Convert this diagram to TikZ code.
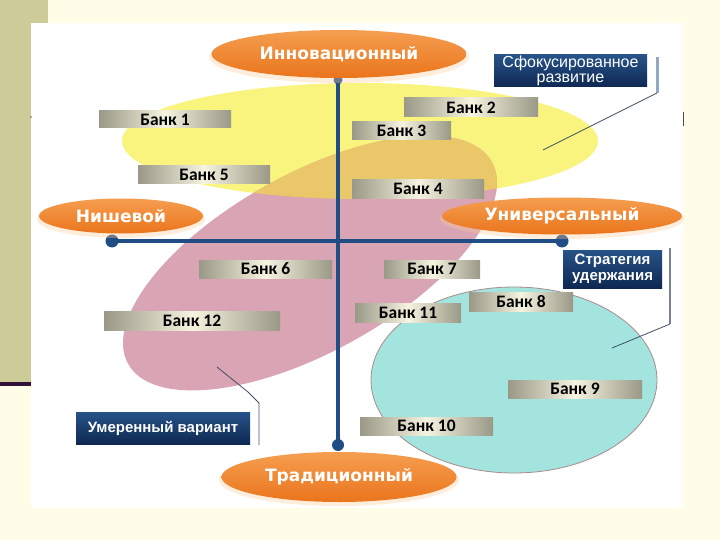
\documentclass[tikz,border=0pt]{standalone}
\usepackage{fontspec}
\usetikzlibrary{shapes.geometric}
\setmainfont{Carlito}
\newfontfamily\dejavu{DejaVu Sans}
\newfontfamily\arial{Liberation Sans}
\definecolor{cream}{HTML}{FFFDE7}
\definecolor{olive}{HTML}{CDCB98}
\definecolor{darkline}{HTML}{33123A}
\definecolor{yel}{HTML}{F9F47E}
\definecolor{pinkc}{HTML}{D9A4B3}
\definecolor{tanc}{HTML}{EAC768}
\definecolor{cyanc}{HTML}{A3E4DF}
\definecolor{cyanb}{HTML}{A88C8C}
\definecolor{axisc}{HTML}{214D85}
\definecolor{barD}{HTML}{9A9886}
\definecolor{barL}{HTML}{F6F4E0}
\definecolor{orT}{HTML}{F59E50}
\definecolor{orB}{HTML}{EA751C}
\definecolor{navyT}{HTML}{275388}
\definecolor{navyB}{HTML}{0E2852}
\definecolor{callc}{HTML}{3F4E66}
\begin{document}
\begin{tikzpicture}[x=1pt,y=-1pt,
  bar/.style={rectangle, inner sep=0pt, left color=barD, right color=barD, middle color=barL,
    font=\bfseries\fontsize{17.5}{17.5}\selectfont, text=black},
  oval/.style={ellipse, inner sep=0pt, top color=orT, bottom color=orB,
    font=\dejavu\bfseries\fontsize{17}{17}\selectfont, text=white},
  navybox/.style={rectangle, inner sep=0pt, top color=navyT, bottom color=navyB, text=white, align=center},
  axisline/.style={axisc, line width=4.5pt},
  dot/.style={circle, fill=axisc, inner sep=0pt, minimum size=13pt},
  callout/.style={callc, line width=0.8pt}]
\useasboundingbox (0,0) rectangle (720,540);
% background
\fill[cream] (0,0) rectangle (720,540);
\fill[olive] (0,0) rectangle (48,384);
\fill[darkline] (0,382) rectangle (31,386);
\fill[white] (31,23) rectangle (683,508);
% regions
\fill[yel] (360,141) ellipse [x radius=238, y radius=58];
\fill[pinkc, rotate around={29:(310,263)}] (310,263) ellipse [x radius=208, y radius=89];
\begin{scope}
  \clip (360,141) ellipse [x radius=238, y radius=58];
  \fill[tanc, rotate around={29:(310,263)}] (310,263) ellipse [x radius=208, y radius=89];
\end{scope}
\filldraw[fill=cyanc, draw=cyanb, line width=0.8pt] (514,380) ellipse [x radius=143, y radius=93];
% axes
\coordinate (vt) at (338,80);
\coordinate (vb) at (338,445);
\coordinate (hl) at (112,241);
\coordinate (hr) at (562,241);
\draw[axisline] (vt) -- (vb);
\draw[axisline] (hl) -- (hr);
\node[dot] at (hl) {};
\node[dot] at (hr) {};
\node[dot, minimum size=12pt] at (vb) {};
\node[dot, minimum size=9pt] at (vt) {};
% orange labels
\fill[orange!40, opacity=0.35] (339,57) ellipse [x radius=130, y radius=26];
\node[oval, minimum width=255, minimum height=48] (inn) at (339,54) {Инновационный};
\fill[orange!40, opacity=0.35] (121,219) ellipse [x radius=84, y radius=19];
\node[oval, minimum width=164, minimum height=35] (nis) at (121,216) {Нишевой};
\fill[orange!40, opacity=0.35] (562,219) ellipse [x radius=122, y radius=20];
\node[oval, minimum width=240, minimum height=37] (uni) at (562,216) {Универсальный};
\fill[orange!40, opacity=0.35] (339,480) ellipse [x radius=120, y radius=26];
\node[oval, minimum width=235, minimum height=50] (tra) at (339,477) {Традиционный};
% banks
\node[bar, minimum width=132, minimum height=17] (b1) at (165,119.5) {Банк 1};
\node[bar, minimum width=134, minimum height=19] (b2) at (471,107.5) {Банк 2};
\node[bar, minimum width=99, minimum height=18] (b3) at (401.5,131) {Банк 3};
\node[bar, minimum width=132, minimum height=19] (b4) at (418,189) {Банк 4};
\node[bar, minimum width=132, minimum height=18] (b5) at (204,175) {Банк 5};
\node[bar, minimum width=133, minimum height=18] (b6) at (265.5,269) {Банк 6};
\node[bar, minimum width=96, minimum height=18] (b7) at (432,269) {Банк 7};
\node[bar, minimum width=104, minimum height=19] (b8) at (521,301.5) {Банк 8};
\node[bar, minimum width=134, minimum height=18] (b9) at (575,389) {Банк 9};
\node[bar, minimum width=133, minimum height=18] (b10) at (426.5,426) {Банк 10};
\node[bar, minimum width=106, minimum height=19] (b11) at (408,312.5) {Банк 11};
\node[bar, minimum width=176, minimum height=19] (b12) at (192,320.5) {Банк 12};
% navy callouts
\node[navybox, minimum width=153, minimum height=32, font=\arial\fontsize{16}{15.5}\selectfont] (sf) at (570.5,71) {Сфокусированное\\развитие};
\coordinate (sf1) at (657,57);
\coordinate (sf2) at (657,93);
\coordinate (sf3) at (543,150);
\draw[line width=3pt, color=navyT!50] (sf1) -- (sf2);
\draw[callout] (sf2) -- (sf3);
\node[navybox, minimum width=99, minimum height=38, font=\arial\bfseries\fontsize{15}{15.5}\selectfont] (st) at (612.5,269) {Стратегия\\удержания};
\coordinate (st1) at (670,248);
\coordinate (st2) at (670,324);
\coordinate (st3) at (612,348);
\draw[line width=1.2pt, color=callc!70] (st1) -- (st2);
\draw[callout] (st2) -- (st3);
\node[navybox, minimum width=174, minimum height=32, font=\arial\bfseries\fontsize{15}{15}\selectfont] (um) at (163,428) {Умеренный вариант};
\coordinate (um1) at (217,367);
\coordinate (um2) at (248,392);
\coordinate (um3) at (259,403);
\coordinate (um4) at (259,445);
\draw[callout] (um1) -- (um2) -- (um3) -- (um4);
% small marks
\draw[black!70, line width=0.8pt] (683,112) -- (683,126);
\fill[black!60] (31,117) circle (0.8);
\end{tikzpicture}
\end{document}
